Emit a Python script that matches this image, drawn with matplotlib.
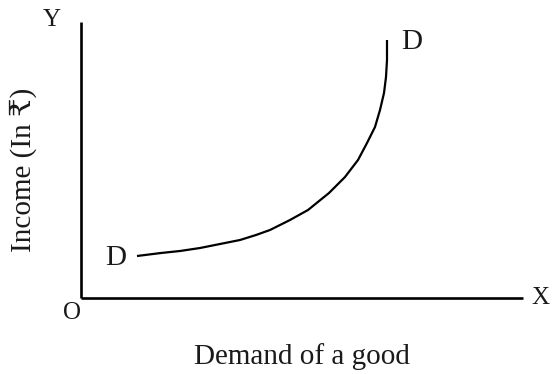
import matplotlib
matplotlib.use("Agg")
import matplotlib.pyplot as plt

# demand curve (x = demand, y = income)
demand = [56, 80, 99, 119, 139, 159, 175, 189, 209, 227, 248, 264, 277, 286, 294, 299, 303, 305, 306, 306]
income = [42, 45, 47, 50, 54, 58, 63, 68, 78, 88, 105, 121, 138, 155, 171, 188, 205, 221, 238, 258]

curve_labels = ["D", "D"]
axis_labels = ["X", "Y", "O"]
xlabel = "Demand of a good"
ylabel = "Income (In ₹)"

serif = ["Liberation Serif", "DejaVu Serif", "DejaVu Sans"]
plt.rcParams["font.family"] = serif

W, H = 553, 374
fig = plt.figure(figsize=(W / 100, H / 100), dpi=100)
# axes box from origin (81,298) to (523,22) in pixels
ax = fig.add_axes([81 / W, (H - 298) / H, (523 - 81) / W, (298 - 22) / H])
ax.set_xlim(0, 442)
ax.set_ylim(0, 276)
for s in ["top", "right"]:
    ax.spines[s].set_visible(False)
for s in ["left", "bottom"]:
    ax.spines[s].set_linewidth(1.9)
    ax.spines[s].set_capstyle("butt")
ax.set_xticks([])
ax.set_yticks([])
ax.patch.set_visible(False)

ax.plot(demand, income, color="black", lw=1.6, solid_capstyle="butt",
        solid_joinstyle="round")

txt = dict(color="#1a1a1a", ha="center", va="center", clip_on=False)
ax.text(35, 40, curve_labels[0], fontsize=21, **txt)
ax.text(331, 256, curve_labels[1], fontsize=21, **txt)
ax.text(459, 0, axis_labels[0], fontsize=18, **txt)
ax.text(-29, 278, axis_labels[1], fontsize=18, **txt)
ax.text(-9, -15, axis_labels[2], fontsize=18, **txt)
ax.text(221, -59, xlabel, fontsize=21, **txt)
ax.text(-58, 128, ylabel, fontsize=21, rotation=90, **txt)

fig.savefig("out.png", dpi=100)
